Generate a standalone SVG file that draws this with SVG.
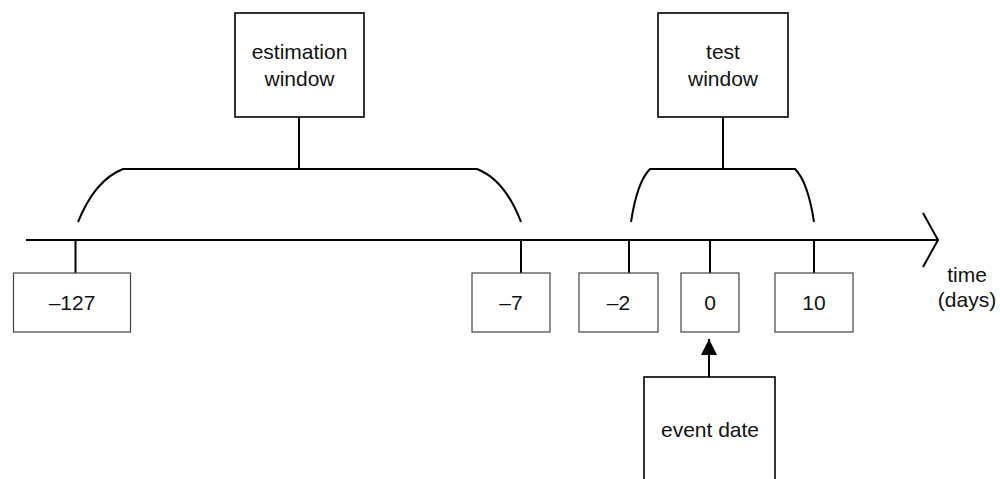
<svg xmlns="http://www.w3.org/2000/svg" width="1000" height="479" viewBox="0 0 1000 479">
<defs>
<style>
text{font-family:"Liberation Sans",Arial,sans-serif;font-size:21px;fill:#111;text-anchor:middle}
.big{fill:#fff;stroke:#000;stroke-width:1.6}
.small{fill:#fff;stroke:#444;stroke-width:1.2}
.ln{fill:none;stroke:#000;stroke-width:2}
</style>
<marker id="ah" viewBox="0 0 10 10" refX="10" refY="5" markerWidth="16" markerHeight="16" markerUnits="userSpaceOnUse" orient="auto">
<path d="M0,0 L10,5 L0,10 z" fill="#000"/>
</marker>
</defs>
<rect width="1000" height="479" fill="#fff"/>
<g id="connectors">
<path class="ln" d="M26,240 H937"/>
<path class="ln" d="M923,213 L938,240 L923,267"/>
<path class="ln" d="M75.5,240 V280"/>
<path class="ln" d="M521,240 V280"/>
<path class="ln" d="M629,240 V280"/>
<path class="ln" d="M710,240 V280"/>
<path class="ln" d="M814,240 V280"/>
<path class="ln" d="M78,222 Q95,180 123,169 H477 Q505,180 521,222"/>
<path class="ln" d="M631,222 Q637,182 650,169 H795 Q808,182 814,222"/>
<path class="ln" d="M299,117 V169"/>
<path class="ln" d="M723,117 V169"/>
<path class="ln" d="M709,377 V339" marker-end="url(#ah)"/>
</g>
<g id="estimation">
<rect class="big" x="235" y="13" width="129" height="104"/>
<text x="299.5" y="59">estimation</text>
<text x="299.5" y="86">window</text>
</g>
<g id="test">
<rect class="big" x="658" y="13" width="130" height="104"/>
<text x="723" y="59">test</text>
<text x="723" y="86">window</text>
</g>
<g id="n127">
<rect class="small" x="13.5" y="273" width="117" height="59"/>
<text x="72" y="310">–127</text>
</g>
<g id="n7">
<rect class="small" x="472" y="273" width="78" height="59"/>
<text x="511" y="310">–7</text>
</g>
<g id="n2">
<rect class="small" x="579" y="273" width="79" height="59"/>
<text x="618.5" y="310">–2</text>
</g>
<g id="n0">
<rect class="small" x="681" y="273" width="58" height="59"/>
<text x="710" y="310">0</text>
</g>
<g id="n10">
<rect class="small" x="775" y="273" width="78" height="59"/>
<text x="814" y="310">10</text>
</g>
<g id="event">
<rect class="big" x="644" y="377" width="131" height="110"/>
<text x="710" y="437">event date</text>
</g>
<g id="timelabel">
<text x="967" y="282">time</text>
<text x="967" y="307">(days)</text>
</g>
</svg>
